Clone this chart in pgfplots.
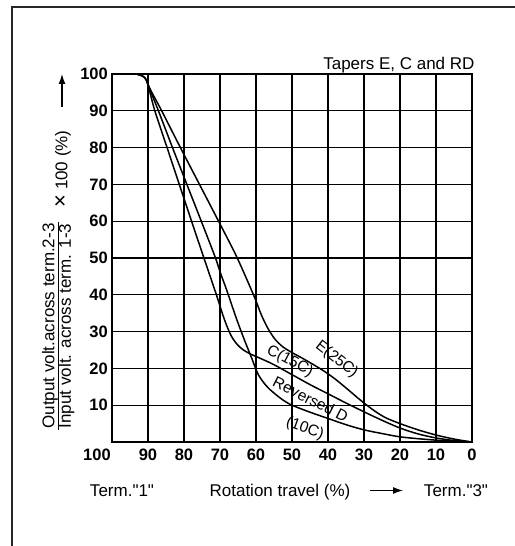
\documentclass[border=0pt]{standalone}
\usepackage{fontspec}
\setmainfont{Liberation Sans}[Ligatures=TeXOff]
\usepackage{pgfplots}
\pgfplotsset{compat=1.18}
\usetikzlibrary{arrows.meta}
\newcommand{\fs}{\fontsize{17}{20}\selectfont}
\newcommand{\ft}{\fontsize{16.5}{19}\selectfont\bfseries}
\newcommand{\fl}{\fontsize{15.5}{18}\selectfont}

\begin{document}
\begin{tikzpicture}[x=1pt,y=1pt]
\useasboundingbox (0,0) rectangle (514,546);
\draw[line width=1.2pt, black!85] (12,-5) -- (12,539) -- (530,539);
\begin{axis}[
  at={(112pt,104pt)}, anchor=south west,
  scale only axis, width=360pt, height=368pt,
  xmin=0, xmax=100, ymin=0, ymax=100,
  x dir=reverse,
  xtick={0,10,...,90}, ytick={10,20,...,100},
  extra x ticks={100},
  extra x tick style={xticklabel style={xshift=-15pt}},
  grid=major, major grid style={black, line width=1.1pt},
  axis line style={line width=1.1pt},
  tick style={draw=none},
  /pgf/number format/assume math mode=true,
  tick label style={font=\ft},
  xticklabel style={anchor=base, inner sep=0pt, yshift=-19pt},
  yticklabel style={anchor=east, inner sep=0pt, xshift=-4pt},
  clip=false,
]
% C (15C)
\addplot[line width=1.5pt, smooth] coordinates {
(100,100) (94,100) (92.5,99.8) (91.3,99.3) (90.5,98.4) (89.8,96.3) (88.1,90) (84.7,80) (81.3,70) (77.9,60) (74.6,50.4) (71,40) (69.2,34.5) (68,31.3) (66.8,28.7) (65.3,26.6) (63.5,25) (61.3,23.8) (58.5,22.6) (55,21.0) (50,18.3) (45,15.6) (40,13.1) (35,10.6) (30,8.2) (25,5.9) (20,3.8) (15,2.2) (10,1.1) (5,0.4) (0,0)
};
% Reversed D (10C)
\addplot[line width=1.5pt, smooth] coordinates {
(100,100) (94,100) (92.5,99.8) (91.3,99.3) (90.5,98.4) (89.5,95.8) (87.1,90) (83.2,80) (79.2,70) (75.2,60) (71.4,50.4) (69.9,46) (68.4,42) (67,38) (65.6,34) (64.3,30.5) (63,27.2) (61.9,24.5) (61,22.3) (60.2,20.2) (59.3,18.2) (58,16.3) (56.5,14.6) (54.5,12.9) (52.5,11.4) (50,10) (45,8.1) (40,6.4) (35,4.7) (30,3.3) (25,2.3) (20,1.4) (15,0.9) (10,0.5) (5,0.2) (0,0)
};
% E (25C)
\addplot[line width=1.5pt, smooth] coordinates {
(100,100) (94,100) (92.5,99.8) (91.3,99.3) (90.5,98.4) (89.3,95.7) (86.2,90) (81,80) (75.7,70) (70.4,60) (65.4,50.4) (60.7,40) (58.7,35) (57.4,32.2) (56.1,29.9) (54.6,27.8) (52.6,25.9) (50,24.3) (47,22.7) (44,21.0) (41,19.2) (38,17.1) (35,14.7) (32,12.2) (30,10.6) (27,8.4) (24,6.6) (20,5.0) (15,3.3) (10,1.9) (5,0.8) (0,0)
};
\node[rotate=-38, font=\fl, inner sep=0pt] at (axis cs:37.6,22.4) {E(25C)};
\node[rotate=-28, font=\fl, inner sep=0pt] at (axis cs:50.6,21.9) {C(15C)};
\node[rotate=-27, font=\fl, inner sep=0pt] at (axis cs:44.8,11.6) {Reversed D};
\node[rotate=-20, font=\fl, inner sep=0pt] at (axis cs:46.4,3.6) {(10C)};
\end{axis}
% y label
\node[rotate=90, font=\fs] at (50,220) {Output volt.across term.2-3};
\node[rotate=90, font=\fs] at (66.5,220) {Input volt. across term. 1-3};
\draw[line width=1pt] (58.5,116) -- (58.5,324);
\node[rotate=90, font=\fs] at (63,377) {{\fontsize{22}{22}\selectfont ×} 100 (\%)};
\draw[line width=1.3pt, -{Latex[length=10pt,width=7pt]}] (62,439) -- (62,472);
% bottom
\node[font=\fs, anchor=base] at (122,49) {Term."1"};
\node[font=\fs, anchor=base] at (280,49) {Rotation travel (\%)};
\draw[line width=1.3pt, -{Latex[length=10pt,width=7pt]}] (370,55.5) -- (403,55.5);
\node[font=\fs, anchor=base] at (456,49) {Term."3"};
% title
\node[font=\fs, anchor=base east] at (478,476) {Tapers E, C and RD};
\end{tikzpicture}
\end{document}
